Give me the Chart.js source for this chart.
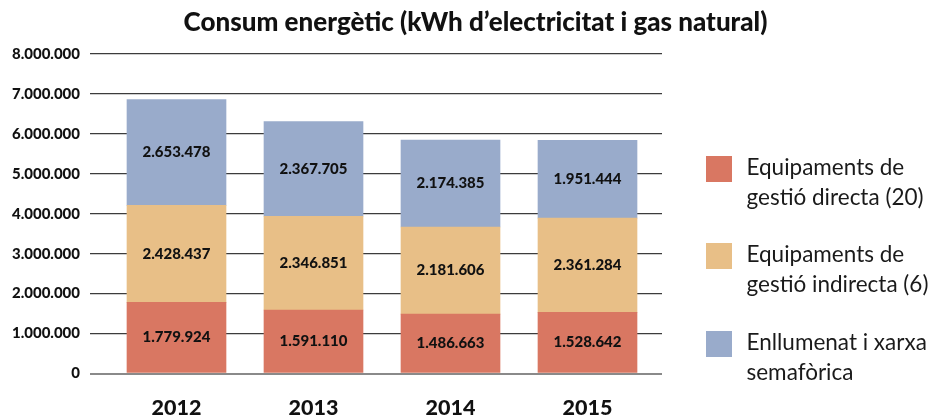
<!DOCTYPE html>
<html><head><meta charset="utf-8">
<script src="https://cdn.jsdelivr.net/npm/chart.js@4.4.0/dist/chart.umd.min.js"></script>
<style>
html,body{margin:0;padding:0;background:#fff;}
#wrap{position:relative;width:951px;height:419px;}
#legend{position:absolute;left:0;top:0;font-family:Lato,sans-serif;font-weight:400;font-size:22.5px;color:#1a1a1a;}
.item{position:absolute;left:706px;white-space:nowrap;}
.box{position:absolute;left:0;top:0;width:26px;height:26px;}
.txt{position:absolute;left:40.5px;top:-3.8px;line-height:30px;}
</style></head>
<body><div id="wrap"><canvas id="c" width="951" height="419"></canvas><div id="legend"></div></div>
<script>
const years = ['2012', '2013', '2014', '2015'];
const seriesNames = [
  ['Equipaments de', 'gestió directa (20)'],
  ['Equipaments de', 'gestió indirecta (6)'],
  ['Enllumenat i xarxa', 'semafòrica']
];
const gestioDirecta = [1779924, 1591110, 1486663, 1528642];
const gestioIndirecta = [2428437, 2346851, 2181606, 2361284];
const enllumenat = [2653478, 2367705, 2174385, 1951444];
const yTickValues = [0, 1000000, 2000000, 3000000, 4000000, 5000000, 6000000, 7000000, 8000000];
const colors = ['#D97762', '#E8BF87', '#99ABCB'];
const seriesValues = [gestioDirecta, gestioIndirecta, enllumenat];

function fmt(v) { return String(Math.round(v)).replace(/\B(?=(\d{3})+(?!\d))/g, '.'); }

const datasets = seriesValues.map((vals, k) => ({
  label: seriesNames[k].join(' '),
  data: vals,
  backgroundColor: colors[k],
  borderWidth: 0,
  barThickness: 99
}));

const valueLabels = {
  id: 'valueLabels',
  afterDatasetsDraw(chart) {
    const ctx = chart.ctx;
    ctx.save();
    ctx.font = '900 15px Lato';
    ctx.fillStyle = '#111';
    ctx.textAlign = 'center';
    ctx.textBaseline = 'middle';
    chart.data.datasets.forEach((ds, di) => {
      chart.getDatasetMeta(di).data.forEach((bar, i) => {
        const p = bar.getCenterPoint();
        ctx.fillText(fmt(ds.data[i]), p.x, p.y);
      });
    });
    ctx.restore();
  }
};

// narrow the category axis inside the plot area so the grid lines run past the bars
const xInset = {
  id: 'xInset',
  afterLayout(chart) {
    const s = chart.scales.x;
    const a = chart.chartArea;
    s.left = a.left + 18;
    s.right = a.right - 6;
    s.width = s.right - s.left;
    s.configure();
  }
};

new Chart(document.getElementById('c'), {
  type: 'bar',
  data: { labels: years, datasets },
  plugins: [xInset, valueLabels],
  options: {
    responsive: false,
    animation: false,
    devicePixelRatio: 1,
    layout: { padding: 0 },
    plugins: {
      legend: { display: false },
      tooltip: { enabled: false },
      title: {
        display: true,
        text: 'Consum energètic (kWh d\u2019electricitat i gas natural)',
        color: '#111',
        font: { family: 'Lato', size: 26, weight: '900', lineHeight: 1.2 },
        padding: { top: 7.4, bottom: 15.4 }
      }
    },
    scales: {
      x: {
        stacked: true,
        grid: { display: false },
        border: { display: false },
        afterFit: s => { s.height = 45.5; },
        ticks: {
          color: '#111',
          font: { family: 'Lato', size: 21.5, weight: '900', lineHeight: 1.2 },
          padding: 14,
          maxRotation: 0,
          autoSkip: false
        }
      },
      y: {
        stacked: true,
        min: 0,
        max: 8000000,
        afterBuildTicks: s => { s.ticks = yTickValues.map(v => ({ value: v })); },
        afterFit: s => { s.width = 90; },
        grid: {
          drawTicks: false,
          color: c => c.index === 0 ? '#8a8a8a' : '#3c3c3c',
          lineWidth: c => c.index === 0 ? 2 : 1.2
        },
        border: { display: false },
        ticks: {
          padding: 10,
          color: '#111',
          font: { family: 'Lato', size: 15, weight: '900' },
          callback: v => fmt(v)
        }
      },
      yRight: {
        type: 'linear',
        position: 'right',
        display: true,
        grid: { display: false },
        border: { display: false },
        ticks: { display: false },
        afterFit: s => { s.width = 289; }
      }
    }
  }
});

const legend = document.getElementById('legend');
const itemTops = [156, 243, 331];
seriesNames.forEach((lines, k) => {
  const it = document.createElement('div');
  it.className = 'item';
  it.style.top = itemTops[k] + 'px';
  const b = document.createElement('div');
  b.className = 'box';
  b.style.background = colors[k];
  const t = document.createElement('div');
  t.className = 'txt';
  t.innerHTML = lines.join('<br>');
  it.appendChild(b); it.appendChild(t);
  legend.appendChild(it);
});
</script>
</body></html>
